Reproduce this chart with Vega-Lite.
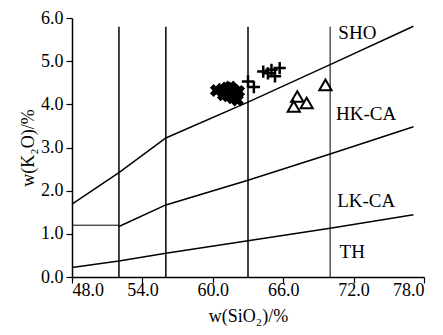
{
  "$schema": "https://vega.github.io/schema/vega-lite/v6.json",
  "width": 352,
  "height": 259,
  "autosize": {"type": "none"},
  "padding": {"left": 72, "top": 18, "right": 19, "bottom": 58},
  "background": "white",
  "config": {
    "view": {"stroke": null},
    "font": "Liberation Serif",
    "axis": {
      "grid": false,
      "domainColor": "black",
      "domainWidth": 1.5,
      "tickColor": "black",
      "tickWidth": 1.2,
      "tickSize": 6,
      "labelColor": "black",
      "titleColor": "black",
      "labelFont": "Liberation Serif",
      "titleFont": "Liberation Serif",
      "labelFontSize": 18,
      "titleFontSize": 18,
      "titleFontWeight": "normal"
    }
  },
  "datasets": {
    "bounds": [
      {"b": "SHO", "x": 48, "y": 1.69},
      {"b": "SHO", "x": 52, "y": 2.42},
      {"b": "SHO", "x": 56, "y": 3.22},
      {"b": "SHO", "x": 63, "y": 4.05},
      {"b": "SHO", "x": 70, "y": 4.92},
      {"b": "SHO", "x": 77.1, "y": 5.81},
      {"b": "HK", "x": 52, "y": 1.17},
      {"b": "HK", "x": 56, "y": 1.67},
      {"b": "HK", "x": 63, "y": 2.24},
      {"b": "HK", "x": 70, "y": 2.85},
      {"b": "HK", "x": 77.1, "y": 3.48},
      {"b": "TH", "x": 48, "y": 0.22},
      {"b": "TH", "x": 52, "y": 0.37},
      {"b": "TH", "x": 56, "y": 0.55},
      {"b": "TH", "x": 63, "y": 0.84},
      {"b": "TH", "x": 70, "y": 1.13},
      {"b": "TH", "x": 77.1, "y": 1.44}
    ],
    "verticals": [
      {"x": 52, "y": 0, "y2": 5.8, "w": 1.5},
      {"x": 56, "y": 0, "y2": 5.8, "w": 1.5},
      {"x": 63, "y": 0, "y2": 5.8, "w": 1.5},
      {"x": 70, "y": 0, "y2": 5.8, "w": 1}
    ],
    "horiz": [
      {"x": 48, "x2": 52, "y": 1.2}
    ],
    "samples": [
      {"g": "x", "sio2": 60.3, "k2o": 4.32},
      {"g": "x", "sio2": 60.8, "k2o": 4.35},
      {"g": "x", "sio2": 61.0, "k2o": 4.28},
      {"g": "x", "sio2": 61.2, "k2o": 4.38},
      {"g": "x", "sio2": 61.4, "k2o": 4.3},
      {"g": "x", "sio2": 61.6, "k2o": 4.25},
      {"g": "x", "sio2": 61.3, "k2o": 4.2},
      {"g": "x", "sio2": 61.8, "k2o": 4.33},
      {"g": "x", "sio2": 62.0, "k2o": 4.22},
      {"g": "x", "sio2": 62.1, "k2o": 4.1},
      {"g": "x", "sio2": 61.7, "k2o": 4.15},
      {"g": "x", "sio2": 60.9, "k2o": 4.22},
      {"g": "x", "sio2": 61.5, "k2o": 4.4},
      {"g": "x", "sio2": 62.2, "k2o": 4.3},
      {"g": "p", "sio2": 63.0, "k2o": 4.53},
      {"g": "p", "sio2": 63.5, "k2o": 4.4},
      {"g": "p", "sio2": 64.3, "k2o": 4.76},
      {"g": "p", "sio2": 64.7, "k2o": 4.72},
      {"g": "p", "sio2": 65.0, "k2o": 4.8},
      {"g": "p", "sio2": 65.3, "k2o": 4.65},
      {"g": "p", "sio2": 65.7, "k2o": 4.84},
      {"g": "t", "sio2": 69.6, "k2o": 4.45},
      {"g": "t", "sio2": 67.2, "k2o": 4.18},
      {"g": "t", "sio2": 66.9, "k2o": 3.95},
      {"g": "t", "sio2": 68.0, "k2o": 4.03}
    ],
    "labels": [
      {"t": "SHO", "x": 70.7, "y": 5.65},
      {"t": "HK-CA", "x": 70.5, "y": 3.78},
      {"t": "LK-CA", "x": 70.6, "y": 1.76},
      {"t": "TH", "x": 70.8, "y": 0.58}
    ]
  },
  "layer": [
    {
      "data": {"name": "verticals"},
      "mark": {"type": "rule", "color": "black"},
      "encoding": {
        "x": {"field": "x", "type": "quantitative",
          "scale": {"domain": [48, 78], "nice": false, "zero": false},
          "axis": {"values": [48, 54, 60, 66, 72, 78], "format": ".1f", "labelPadding": -2, "labelFont": "Liberation Serif",
            "title": "w(SiO₂)/%", "titlePadding": 8,
            "encode": {"ticks": {"update": {"y2": {"value": -6}}}}}},
        "y": {"field": "y", "type": "quantitative",
          "scale": {"domain": [0, 6], "nice": false, "zero": false},
          "axis": {"values": [0, 1, 2, 3, 4, 5, 6], "format": ".1f", "labelPadding": 3, "labelFont": "Liberation Serif",
            "title": "w(K₂O)/%", "titlePadding": 3,
            "encode": {"ticks": {"update": {"x2": {"value": 6}}}}}},
        "y2": {"field": "y2"},
        "strokeWidth": {"field": "w", "type": "quantitative", "scale": null}
      }
    },
    {
      "data": {"name": "horiz"},
      "mark": {"type": "rule", "color": "black", "strokeWidth": 1},
      "encoding": {
        "x": {"field": "x", "type": "quantitative"},
        "x2": {"field": "x2"},
        "y": {"field": "y", "type": "quantitative"}
      }
    },
    {
      "data": {"name": "bounds"},
      "mark": {"type": "line", "color": "black", "strokeWidth": 1.5},
      "encoding": {
        "x": {"field": "x", "type": "quantitative"},
        "y": {"field": "y", "type": "quantitative"},
        "detail": {"field": "b"}
      }
    },
    {
      "data": {"name": "samples"},
      "transform": [{"filter": "datum.g === 'x'"}],
      "mark": {"type": "point", "shape": "cross", "angle": 45, "filled": true, "color": "black", "opacity": 1, "size": 170},
      "encoding": {
        "x": {"field": "sio2", "type": "quantitative"},
        "y": {"field": "k2o", "type": "quantitative"}
      }
    },
    {
      "data": {"name": "samples"},
      "transform": [{"filter": "datum.g === 'p'"}],
      "mark": {"type": "point", "shape": "M-1,0L1,0M0,-1L0,1", "filled": false, "color": "black", "opacity": 1, "strokeWidth": 2.5, "size": 150},
      "encoding": {
        "x": {"field": "sio2", "type": "quantitative"},
        "y": {"field": "k2o", "type": "quantitative"}
      }
    },
    {
      "data": {"name": "samples"},
      "transform": [{"filter": "datum.g === 't'"}],
      "mark": {"type": "point", "shape": "triangle-up", "filled": false, "color": "black", "opacity": 1, "strokeWidth": 2, "size": 150},
      "encoding": {
        "x": {"field": "sio2", "type": "quantitative"},
        "y": {"field": "k2o", "type": "quantitative"}
      }
    },
    {
      "data": {"name": "labels"},
      "mark": {"type": "text", "align": "left", "baseline": "middle", "font": "Liberation Serif", "fontSize": 19, "color": "black"},
      "encoding": {
        "x": {"field": "x", "type": "quantitative"},
        "y": {"field": "y", "type": "quantitative"},
        "text": {"field": "t"}
      }
    }
  ]
}
